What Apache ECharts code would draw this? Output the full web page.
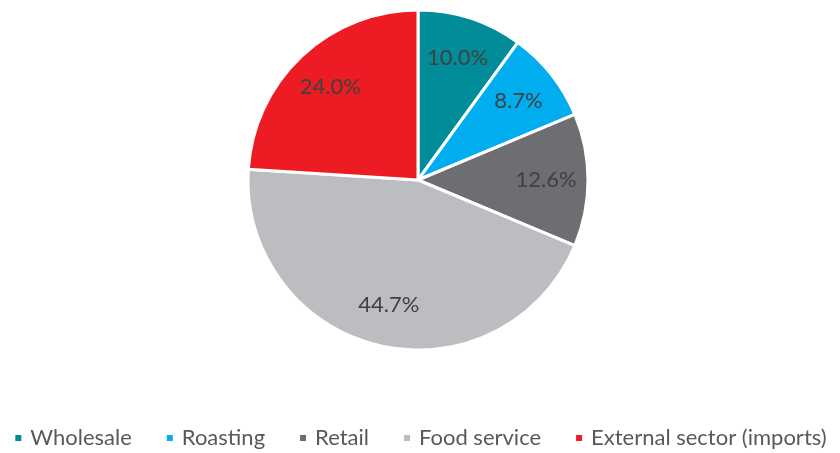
<!DOCTYPE html>
<html><head><meta charset="utf-8">
<script src="https://cdn.jsdelivr.net/npm/echarts@6/dist/echarts.min.js"></script>
<style>html,body{margin:0;padding:0;background:#fff}#c{width:840px;height:453px}</style>
</head><body><div id="c"></div>
<script>
const categories = ['Wholesale','Roasting','Retail','Food service','External sector (imports)'];
const values = [10.0, 8.7, 12.6, 44.7, 24.0];
const colors = ['#008C99','#00AEEF','#6D6E71','#BCBDC0','#ED1C24'];

const chart = echarts.init(document.getElementById('c'));
const data = categories.map((n,i)=>({name:n, value:values[i], itemStyle:{color:colors[i]}}));
const FONT = 'Lato';
chart.setOption({
  animation:false,
  legend:{
    top: 427, left:'center', padding:0, width:840,
    itemWidth:8, itemHeight:8, itemGap:33,
    icon:'rect',
    textStyle:{fontFamily:FONT, fontSize:22, color:'#595959', padding:[0,0,0,3]},
    data: categories
  },
  series:[{
    type:'pie', center:[418,180], radius:170,
    startAngle:90, clockwise:true,
    itemStyle:{borderColor:'#fff', borderWidth:3},
    label:{show:false}, labelLine:{show:false},
    data: data
  },{
    type:'pie', center:[418,180], radius:[80,170], silent:true,
    startAngle:90, clockwise:true,
    itemStyle:{color:'transparent', borderWidth:0},
    label:{show:true, position:'inside', fontFamily:FONT, fontSize:22, color:'#404040',
      formatter:p=>p.value.toFixed(1)+'%'},
    labelLine:{show:false},
    data: categories.map((n,i)=>({name:n, value:values[i]}))
  }]
});
</script></body></html>
